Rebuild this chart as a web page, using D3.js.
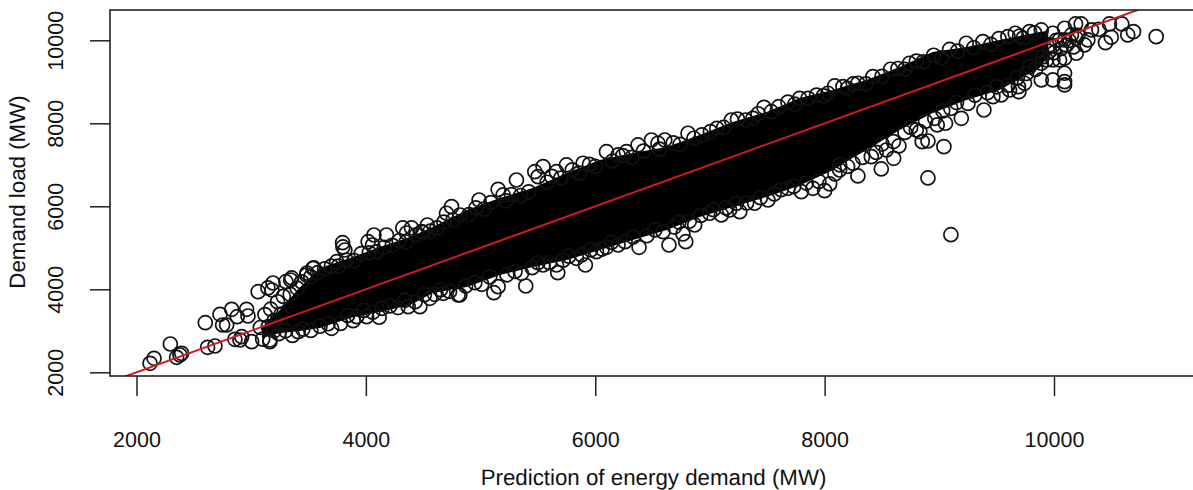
<!DOCTYPE html>
<html>
<head>
<meta charset="utf-8">
<script src="https://cdn.jsdelivr.net/npm/d3@7"></script>
<style>
    html, body { margin: 0; padding: 0; background: #fff; overflow: hidden; }
    text { font-family: "Liberation Sans", Arial, sans-serif; fill: #111; text-rendering: geometricPrecision; }
</style>
</head>
<body>
<div id="chart"></div>
<script>
// tick labels
const xTicks = [2000, 4000, 6000, 8000, 10000];
const yTicks = [2000, 4000, 6000, 8000, 10000];

// the solid black core, too dense to tell single points apart: read as upper and lower edge
const coreX = [3094, 3251, 3425, 3599, 3861, 4122, 4384, 4584, 4880, 5168, 5455, 5752, 6039, 6327, 6623, 6911, 7198, 7495, 7782, 8070, 8220, 8366, 8654, 8942, 9238, 9525, 9874, 9950];
const coreUpper = [3092, 3500, 4050, 4514, 4755, 5020, 5261, 5502, 5911, 6200, 6441, 6803, 7116, 7285, 7429, 7719, 8032, 8273, 8610, 8803, 8930, 9044, 9357, 9719, 9840, 10008, 10201, 10230];
const coreLower = [2827, 2947, 2995, 3068, 3309, 3453, 3622, 3911, 4056, 4345, 4538, 4706, 4947, 5188, 5429, 5743, 5984, 6225, 6500, 6870, 7130, 7357, 7839, 8249, 8562, 8803, 9333, 9620];

// single points that can be read around the core
const predicted = [
    2118, 2153, 2295, 2350, 2394, 2379, 2620, 2684, 2600, 2728, 2751, 2786, 2830, 2878, 2960, 2972, 2858, 2917, 2902, 3004,
    3163, 3061, 3146, 3190, 3181, 3303, 3344, 3486, 3547, 3797, 3817, 3800, 4020, 4070, 4058, 3538, 3483, 3353, 3745, 4180,
    4322, 4398, 4355, 4536, 4747, 4703, 4485, 4116, 3889, 3701, 3163, 3410, 4006, 4369, 4471, 4804, 4674, 4558,
    4987, 5153, 5197, 5313, 5473, 5545, 5502, 5662, 5749, 5894, 6098, 6272, 6199, 6373, 6490, 6606, 6547, 6809,
    5394, 5116, 5153, 5673, 5914, 6382, 6643, 6789, 6765, 6591, 6098, 6199, 6867, 6011, 5836, 5662, 5545, 5357, 4819,
    7004, 7187, 7375, 7471, 7535, 7782, 7855, 8029, 8087, 8160, 8290, 8421, 8575, 8740,
    9101, 8901, 9040, 8290, 8494, 8602, 8648, 8538, 8407, 8247, 8131, 8851, 8901, 8799, 8982, 9054, 9192, 9389,
    8044, 8000, 7898, 7797, 7680, 7506, 7260, 7100, 6998, 7390, 7172,
    10891, 10693, 10643, 10591, 10484, 10499, 10449, 10391, 10237, 10188, 10092, 10092, 10092, 10092, 9990, 9889, 9694, 9743, 9540,
    9235, 9380, 9598, 9662, 9787, 9889, 9990, 10092, 10194, 10295, 10092, 10194, 9990, 9889, 9787, 9690, 9612, 9467,
    9961, 10048, 10048, 10152, 10266, 9935, 10327,
    // upper fringe of the core
    3120, 3170, 3230, 3280, 3340, 3400, 3440, 3520, 3580, 3640, 3700, 3760, 3830, 3900, 3960, 4030, 4090, 4160, 4230, 4290,
    4350, 4440, 4500, 4560, 4620, 4680, 4760, 4820, 4900, 4960, 5030, 5090, 5220, 5270, 5350, 5420, 5580, 5620, 5700, 5800,
    5860, 5950, 6000, 6150, 6240, 6320, 6420, 6560, 6680, 6740, 6860, 6930, 7060, 7120, 7240, 7310, 7420, 7600, 7680, 7740,
    7930, 7990, 8200, 8250, 8360, 8500, 8640, 8700, 8800, 8860, 8950, 9020, 9090, 9160, 9300, 9450, 9520, 9700, 9730, 9830,
    // lower fringe of the core
    3100, 3240, 3300, 3360, 3450, 3520, 3600, 3670, 3780, 3840, 3920, 3980, 4060, 4140, 4210, 4280, 4340, 4430, 4510, 4600,
    4650, 4730, 4870, 4950, 5010, 5080, 5230, 5300, 5450, 5500, 5600, 5720, 5770, 5880, 5960, 6060, 6140, 6260, 6330, 6450,
    6520, 6690, 6730, 6820, 6920, 7030, 7140, 7230, 7320, 7440, 7560, 7620, 7730, 7840, 7950, 8090, 8130, 8200, 8330, 8450,
    8500, 8600, 8700, 8750, 8830, 8880, 8960, 9030, 9100, 9150, 9250, 9310, 9420, 9500, 9600, 9680, 9760, 9840,
    // both ends of the core
    3080, 3150, 3200, 3200, 3260, 3260,
    9900, 9960, 9990, 10020, 10000, 10060, 10110, 10130, 10210, 10170
];
const demand = [
    2217, 2337, 2682, 2362, 2458, 2417, 2602, 2634, 3195, 3398, 3140, 3140, 3518, 3340, 3518, 3357, 2795, 2858, 2778, 2737,
    2778, 3942, 4032, 4152, 3983, 4183, 4224, 4393, 4514, 5123, 4947, 5020, 5147, 5309, 5068, 4506, 4345, 4273, 4665, 5309,
    5478, 5478, 5357, 5550, 5991, 5832, 5388, 3326, 3244, 3060, 2737, 2978, 3340, 3581, 3581, 3863, 3904, 3783,
    6152, 6410, 6273, 6634, 6834, 6955, 6714, 6834, 6996, 7037, 7316, 7316, 7237, 7478, 7598, 7598, 7519, 7760,
    4080, 3918, 4063, 4400, 4586, 5012, 5068, 5147, 5333, 5388, 5012, 5068, 5550, 4906, 4747, 4586, 4586, 4386, 3863,
    7798, 8080, 8121, 8386, 8280, 8603, 8603, 8724, 8900, 8883, 8965, 9124, 9302, 9447,
    5316, 6683, 7437, 6731, 6900, 7157, 7454, 7357, 7196, 7037, 6875, 7558, 7574, 7839, 7960, 8001, 8121, 8321,
    6538, 6377, 6434, 6352, 6434, 6152, 5870, 5791, 5832, 6073, 5911,
    10088, 10208, 10129, 10394, 10394, 10074, 9943, 10266, 10394, 10394, 10290, 9206, 9003, 8924, 9044, 9044, 8762, 8965, 8683,
    9929, 9967, 10088, 10170, 10208, 10249, 10170, 9567, 9688, 10008, 10008, 10049, 9526, 9447, 9365, 8883, 8803, 8642,
    9888, 10008, 9526, 10129, 9888, 9526, 10250,
    // upper fringe of the core
    3390, 3520, 3700, 3830, 3880, 4030, 4180, 4300, 4400, 4490, 4560, 4560, 4700, 4690, 4860, 4880, 4900, 5010, 5060, 5170,
    5140, 5310, 5370, 5400, 5480, 5620, 5670, 5790, 5800, 5960, 5930, 6090, 6130, 6280, 6260, 6350, 6580, 6720, 6680, 6880,
    6800, 7010, 6960, 7090, 7220, 7180, 7330, 7380, 7530, 7490, 7640, 7720, 7880, 7900, 8100, 8080, 8230, 8400, 8510, 8460,
    8680, 8660, 8840, 8950, 8950, 9130, 9320, 9300, 9500, 9480, 9640, 9580, 9780, 9740, 9820, 9900, 10040, 10100, 10050, 10180,
    // lower fringe of the core
    2800, 2930, 3000, 2890, 3040, 3010, 3110, 3170, 3180, 3370, 3340, 3490, 3450, 3540, 3600, 3560, 3740, 3700, 3870, 3880,
    3990, 3950, 4080, 4160, 4120, 4300, 4350, 4430, 4520, 4640, 4640, 4700, 4800, 4830, 4950, 4970, 5130, 5150, 5260, 5290,
    5430, 5500, 5620, 5640, 5780, 5920, 5960, 6070, 6080, 6210, 6300, 6400, 6480, 6560, 6600, 6780, 7000, 6960, 7180, 7300,
    7500, 7560, 7780, 7900, 7800, 8050, 8120, 8300, 8360, 8500, 8480, 8680, 8740, 8880, 8920, 9100, 9200, 9300,
    // both ends of the core
    3080, 3100, 3250, 3000, 3400, 3150,
    9600, 9730, 9870, 10000, 9700, 9800, 9880, 10000, 10120, 9840
];

// the red reference line, demand equal to prediction
const lineEnds = [1500, 11500];

const width = 1193, height = 490;
const plot = {left: 110, right: 1196, top: 10, bottom: 376};

const svg = d3.select('#chart')
    .append('svg')
    .attr('width', width)
    .attr('height', height)
    .style('display', 'block');

// scales
const xScale = d3.scaleLinear().domain([2000, 10000]).range([136.5, 1054]);
const yScale = d3.scaleLinear().domain([2000, 10000]).range([372.3, 40.3]);

svg.append('clipPath')
    .attr('id', 'plotClip')
    .append('rect')
    .attr('x', plot.left)
    .attr('y', plot.top)
    .attr('width', plot.right - plot.left)
    .attr('height', plot.bottom - plot.top);

const marks = svg.append('g').attr('clip-path', 'url(#plotClip)');

// dense core
const coreArea = d3.area()
    .x(d => xScale(d))
    .y0((d, i) => yScale(coreLower[i]))
    .y1((d, i) => yScale(coreUpper[i]));

marks.append('path')
    .attr('d', coreArea(coreX))
    .attr('fill', '#000');

// points
marks.selectAll('circle')
    .data(predicted)
    .enter()
    .append('circle')
    .attr('cx', d => xScale(d))
    .attr('cy', (d, i) => yScale(demand[i]))
    .attr('r', 7)
    .attr('fill', 'none')
    .attr('stroke', '#111')
    .attr('stroke-width', 1.7);

// reference line
marks.append('line')
    .attr('x1', xScale(lineEnds[0]))
    .attr('y1', yScale(lineEnds[0]))
    .attr('x2', xScale(lineEnds[1]))
    .attr('y2', yScale(lineEnds[1]))
    .attr('stroke', '#cf1a22')
    .attr('stroke-width', 2);

// axes
const xAxis = d3.axisBottom(xScale).tickValues(xTicks).tickSize(20).tickSizeOuter(0).tickFormat(d3.format('d'));
const yAxis = d3.axisLeft(yScale).tickValues(yTicks).tickSize(20).tickSizeOuter(0).tickFormat(d3.format('d'));

const xAxisG = svg.append('g')
    .attr('transform', `translate(0,${plot.bottom})`)
    .call(xAxis);
xAxisG.select('.domain').remove();
xAxisG.selectAll('.tick line').attr('stroke', '#222').attr('stroke-width', 1.5);
xAxisG.selectAll('.tick text')
    .attr('y', 71)
    .attr('dy', 0)
    .style('font-size', '21.5px')
    .style('font-family', '"Liberation Sans", Arial, sans-serif');

const yAxisG = svg.append('g')
    .attr('transform', `translate(${plot.left},0)`)
    .call(yAxis);
yAxisG.select('.domain').remove();
yAxisG.selectAll('.tick line').attr('stroke', '#222').attr('stroke-width', 1.5);
yAxisG.selectAll('.tick text')
    .attr('x', 0)
    .attr('y', 0)
    .attr('dy', 0)
    .attr('text-anchor', 'middle')
    .attr('transform', 'translate(-47,0) rotate(-90)')
    .style('font-size', '21.5px')
    .style('font-family', '"Liberation Sans", Arial, sans-serif');

// box
svg.append('rect')
    .attr('x', plot.left)
    .attr('y', plot.top)
    .attr('width', plot.right - plot.left)
    .attr('height', plot.bottom - plot.top)
    .attr('fill', 'none')
    .attr('stroke', '#222')
    .attr('stroke-width', 1.6);

// axis titles
svg.append('text')
    .attr('x', 653.5)
    .attr('y', 485)
    .attr('text-anchor', 'middle')
    .style('font-size', '22.3px')
    .text('Prediction of energy demand (MW)');

svg.append('text')
    .attr('transform', 'translate(25,192) rotate(-90)')
    .attr('text-anchor', 'middle')
    .style('font-size', '22.3px')
    .text('Demand load (MW)');
</script>
</body>
</html>
